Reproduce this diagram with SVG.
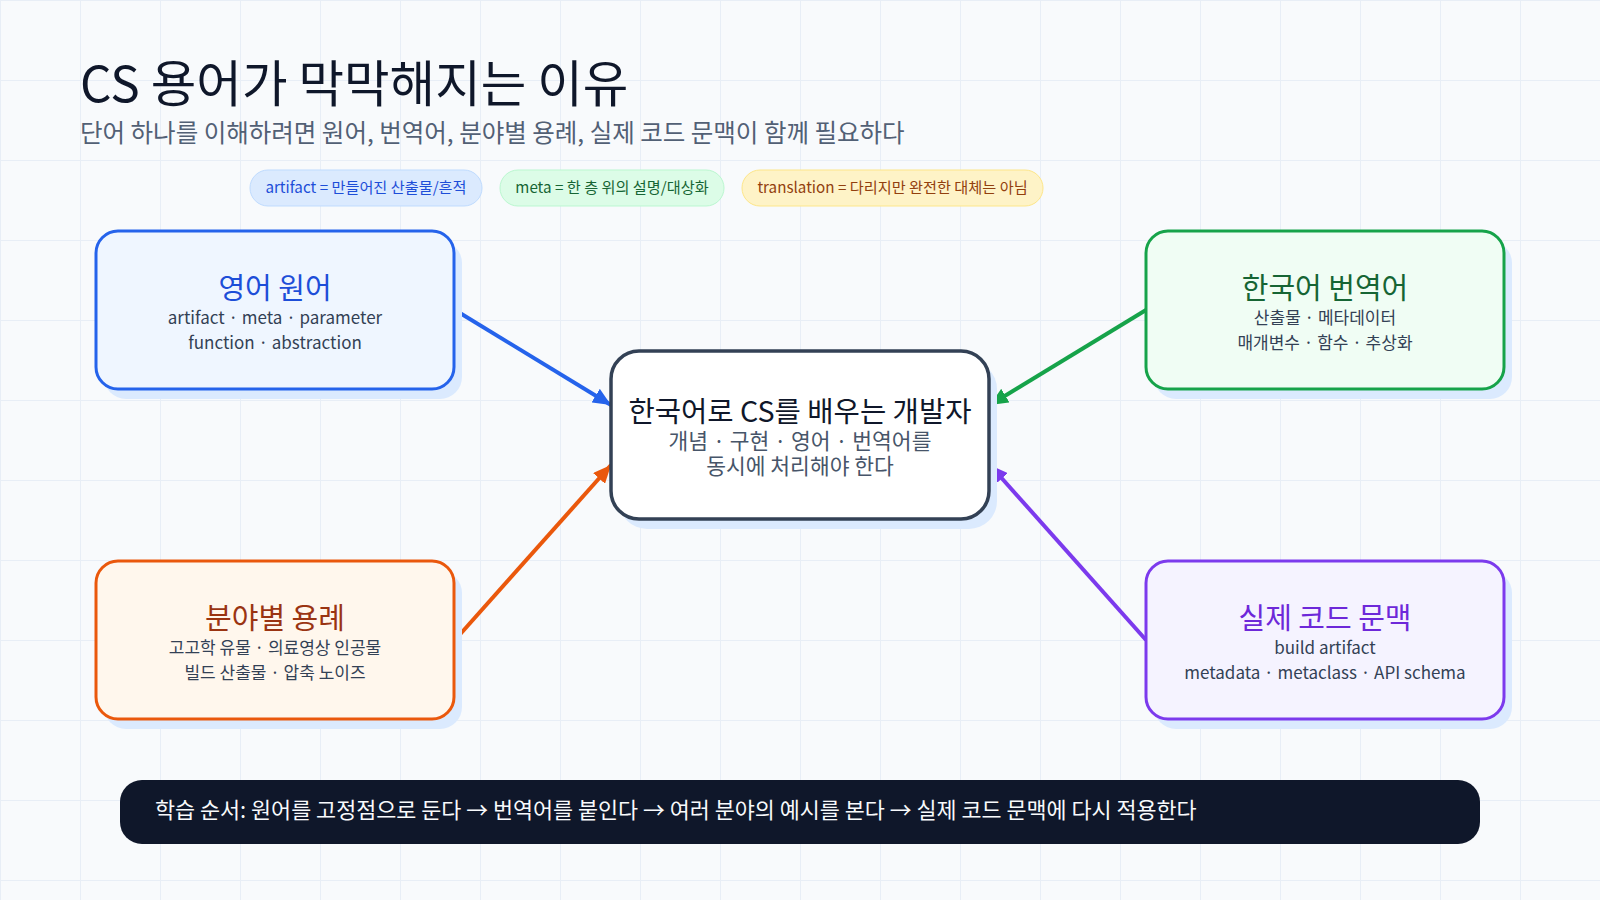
<svg xmlns="http://www.w3.org/2000/svg" width="1600" height="900" viewBox="0 0 1600 900">
  <defs>
    <pattern id="grid" width="80" height="80" patternUnits="userSpaceOnUse">
      <path d="M80 0 L0 0 L0 80" fill="none" stroke="#e8eef6" stroke-width="2"/>
    </pattern>
    <marker id="ah-blue" markerWidth="20" markerHeight="16" refX="18" refY="8" orient="auto" markerUnits="userSpaceOnUse">
      <path d="M0,0 L18,8 L0,16 Z" fill="#2563eb"/>
    </marker>
    <marker id="ah-green" markerWidth="20" markerHeight="16" refX="18" refY="8" orient="auto" markerUnits="userSpaceOnUse">
      <path d="M0,0 L18,8 L0,16 Z" fill="#16a34a"/>
    </marker>
    <marker id="ah-orange" markerWidth="20" markerHeight="16" refX="18" refY="8" orient="auto" markerUnits="userSpaceOnUse">
      <path d="M0,0 L18,8 L0,16 Z" fill="#ea580c"/>
    </marker>
    <marker id="ah-purple" markerWidth="20" markerHeight="16" refX="18" refY="8" orient="auto" markerUnits="userSpaceOnUse">
      <path d="M0,0 L18,8 L0,16 Z" fill="#7c3aed"/>
    </marker>
  </defs>
  <style>
    text { font-family: "Noto Sans CJK KR", "Noto Sans", sans-serif; }
    .title { font-size: 49.5px; font-weight: 400; fill: #0f172a; }
    .subtitle { font-size: 24.5px; fill: #526075; }
    .pill-text { font-size: 15.2px; }
    .shadow { fill: #dbeafe; }
    .box { stroke-width: 3; }
    .ntitle { font-size: 29px; font-weight: 400; text-anchor: middle; }
    .nsub { font-size: 17px; fill: #334155; text-anchor: middle; }
    .ctitle { font-size: 28.6px; font-weight: 400; fill: #0f172a; text-anchor: middle; }
    .csub { font-size: 21.5px; fill: #475569; text-anchor: middle; }
    .conn { fill: none; stroke-width: 4; }
    .bar-text { font-size: 21.8px; font-weight: 400; fill: #f8fafc; }
  </style>

  <rect x="0" y="0" width="1600" height="900" fill="#f8fafc"/>
  <rect x="0" y="0" width="1600" height="900" fill="url(#grid)"/>

  <g id="header">
    <text class="title" x="80" y="102">CS 용어가 막막해지는 이유</text>
    <text class="subtitle" x="80" y="142">단어 하나를 이해하려면 원어, 번역어, 분야별 용례, 실제 코드 문맥이 함께 필요하다</text>
  </g>

  <g id="legend">
    <g id="pill-artifact">
      <rect x="250" y="170" width="232" height="36" rx="18" fill="#dbeafe" stroke="#bfdbfe" stroke-width="1"/>
      <text class="pill-text" x="366" y="193" text-anchor="middle" fill="#1d4ed8">artifact = 만들어진 산출물/흔적</text>
    </g>
    <g id="pill-meta">
      <rect x="500" y="170" width="224" height="36" rx="18" fill="#dcfce7" stroke="#bbf7d0" stroke-width="1"/>
      <text class="pill-text" x="612" y="193" text-anchor="middle" fill="#166534">meta = 한 층 위의 설명/대상화</text>
    </g>
    <g id="pill-translation">
      <rect x="742" y="170" width="301" height="36" rx="18" fill="#fef3c7" stroke="#fde68a" stroke-width="1"/>
      <text class="pill-text" x="892.5" y="193" text-anchor="middle" fill="#92400e">translation = 다리지만 완전한 대체는 아님</text>
    </g>
  </g>

  <g id="connectors">
    <line class="conn" x1="455" y1="310" x2="611" y2="405" stroke="#2563eb" marker-end="url(#ah-blue)"/>
    <line class="conn" x1="1146" y1="310" x2="990" y2="405" stroke="#16a34a" marker-end="url(#ah-green)"/>
    <line class="conn" x1="455" y1="640" x2="611" y2="465" stroke="#ea580c" marker-end="url(#ah-orange)"/>
    <line class="conn" x1="1146" y1="640" x2="990" y2="465" stroke="#7c3aed" marker-end="url(#ah-purple)"/>
  </g>

  <g id="node-english">
    <rect class="shadow" x="104" y="241" width="358" height="158" rx="22"/>
    <rect class="box" x="96" y="231" width="358" height="158" rx="22" fill="#eff6ff" stroke="#2563eb"/>
    <text class="ntitle" x="275" y="299" fill="#1d4ed8">영어 원어</text>
    <text class="nsub" x="275" y="324">artifact · meta · parameter</text>
    <text class="nsub" x="275" y="349">function · abstraction</text>
  </g>

  <g id="node-korean">
    <rect class="shadow" x="1154" y="241" width="358" height="158" rx="22"/>
    <rect class="box" x="1146" y="231" width="358" height="158" rx="22" fill="#f0fdf4" stroke="#16a34a"/>
    <text class="ntitle" x="1325" y="299" fill="#166534">한국어 번역어</text>
    <text class="nsub" x="1325" y="324">산출물 · 메타데이터</text>
    <text class="nsub" x="1325" y="349">매개변수 · 함수 · 추상화</text>
  </g>

  <g id="node-domain">
    <rect class="shadow" x="104" y="571" width="358" height="158" rx="22"/>
    <rect class="box" x="96" y="561" width="358" height="158" rx="22" fill="#fff7ed" stroke="#ea580c"/>
    <text class="ntitle" x="275" y="629" fill="#9a3412">분야별 용례</text>
    <text class="nsub" x="275" y="654">고고학 유물 · 의료영상 인공물</text>
    <text class="nsub" x="275" y="679">빌드 산출물 · 압축 노이즈</text>
  </g>

  <g id="node-code">
    <rect class="shadow" x="1154" y="571" width="358" height="158" rx="22"/>
    <rect class="box" x="1146" y="561" width="358" height="158" rx="22" fill="#f5f3ff" stroke="#7c3aed"/>
    <text class="ntitle" x="1325" y="629" fill="#6d28d9">실제 코드 문맥</text>
    <text class="nsub" x="1325" y="654">build artifact</text>
    <text class="nsub" x="1325" y="679">metadata · metaclass · API schema</text>
  </g>

  <g id="node-center">
    <rect class="shadow" x="619" y="361" width="378" height="168" rx="28"/>
    <rect x="611" y="351" width="378" height="168" rx="28" fill="#ffffff" stroke="#334155" stroke-width="3.5"/>
    <text class="ctitle" x="800" y="422">한국어로 CS를 배우는 개발자</text>
    <text class="csub" x="800" y="449">개념 · 구현 · 영어 · 번역어를</text>
    <text class="csub" x="800" y="474">동시에 처리해야 한다</text>
  </g>

  <g id="footer">
    <rect x="120" y="780" width="1360" height="64" rx="22" fill="#0f172a"/>
    <text class="bar-text" x="155" y="818">학습 순서: 원어를 고정점으로 둔다 → 번역어를 붙인다 → 여러 분야의 예시를 본다 → 실제 코드 문맥에 다시 적용한다</text>
  </g>
</svg>
